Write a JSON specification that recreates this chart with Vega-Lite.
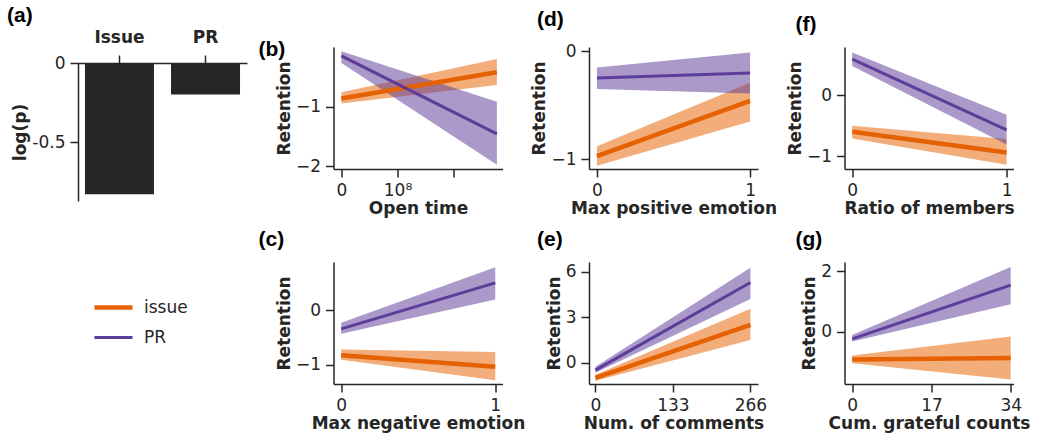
{
  "$schema": "https://vega.github.io/schema/vega-lite/v6.json",
  "padding": {"left": 7, "top": 5, "right": 5, "bottom": 5},
  "autosize": {"type": "pad"},
  "config": {
    "view": {"stroke": null},
    "font": "DejaVu Sans",
    "axis": {"domainColor": "#262626", "tickColor": "#262626", "labelColor": "#262626", "titleColor": "#262626", "grid": false, "labelFont": "DejaVu Sans", "labelFontSize": 17, "titleFont": "DejaVu Sans", "titleFontSize": 17, "titleFontWeight": "bold", "tickSize": 8, "domainWidth": 1.5, "tickWidth": 1.5, "labelPadding": 5, "titlePadding": 2, "labelFlush": false, "labelOverlap": false},
    "title": {"font": "Liberation Sans", "fontSize": 21, "fontWeight": "bold", "anchor": "start", "frame": "group", "color": "#000000", "offset": 0},
    "legend": {"padding": 0, "symbolType": "stroke", "symbolSize": 1444, "labelFont": "DejaVu Sans", "labelFontSize": 17, "labelColor": "#262626", "labelOffset": 9, "rowPadding": 0}
  },
  "datasets": {
    "logp": [
      {"type": "Issue", "logp": -0.83},
      {"type": "PR", "logp": -0.2}
    ],
    "reg": [
      {"panel": "b", "group": "issue", "x": 0, "y": -0.864, "lo": -0.95, "hi": -0.76},
      {"panel": "b", "group": "issue", "x": 277000000, "y": -0.424, "lo": -0.64, "hi": -0.2},
      {"panel": "b", "group": "PR", "x": 0, "y": -0.15, "lo": -0.27, "hi": -0.07},
      {"panel": "b", "group": "PR", "x": 277000000, "y": -1.46, "lo": -1.98, "hi": -0.92},
      {"panel": "d", "group": "issue", "x": 0, "y": -0.97, "lo": -1.06, "hi": -0.88},
      {"panel": "d", "group": "issue", "x": 1, "y": -0.46, "lo": -0.65, "hi": -0.29},
      {"panel": "d", "group": "PR", "x": 0, "y": -0.247, "lo": -0.35, "hi": -0.15},
      {"panel": "d", "group": "PR", "x": 1, "y": -0.2, "lo": -0.39, "hi": -0.01},
      {"panel": "f", "group": "issue", "x": 0, "y": -0.6, "lo": -0.71, "hi": -0.5},
      {"panel": "f", "group": "issue", "x": 1, "y": -0.94, "lo": -1.14, "hi": -0.72},
      {"panel": "f", "group": "PR", "x": 0, "y": 0.59, "lo": 0.48, "hi": 0.7},
      {"panel": "f", "group": "PR", "x": 1, "y": -0.57, "lo": -0.81, "hi": -0.32},
      {"panel": "c", "group": "issue", "x": 0, "y": -0.83, "lo": -0.91, "hi": -0.72},
      {"panel": "c", "group": "issue", "x": 1, "y": -1.04, "lo": -1.29, "hi": -0.77},
      {"panel": "c", "group": "PR", "x": 0, "y": -0.34, "lo": -0.43, "hi": -0.23},
      {"panel": "c", "group": "PR", "x": 1, "y": 0.51, "lo": 0.2, "hi": 0.8},
      {"panel": "e", "group": "issue", "x": 0, "y": -0.98, "lo": -1.17, "hi": -0.78},
      {"panel": "e", "group": "issue", "x": 266, "y": 2.5, "lo": 1.5, "hi": 3.56},
      {"panel": "e", "group": "PR", "x": 0, "y": -0.48, "lo": -0.65, "hi": -0.26},
      {"panel": "e", "group": "PR", "x": 266, "y": 5.28, "lo": 4.2, "hi": 6.26},
      {"panel": "g", "group": "issue", "x": 0, "y": -0.93, "lo": -1.05, "hi": -0.79},
      {"panel": "g", "group": "issue", "x": 34, "y": -0.88, "lo": -1.59, "hi": -0.16},
      {"panel": "g", "group": "PR", "x": 0, "y": -0.24, "lo": -0.33, "hi": -0.11},
      {"panel": "g", "group": "PR", "x": 34, "y": 1.54, "lo": 0.91, "hi": 2.14}
    ]
  },
  "columns": 4,
  "bounds": "flush",
  "align": "each",
  "spacing": {"row": 61, "column": 86.5},
  "concat": [
    {
      "width": 169, "height": 154,
      "title": {"text": "(a)", "dx": -71, "dy": 2},
      "data": {"name": "logp"},
      "mark": {"type": "bar", "color": "#262626"},
      "encoding": {
        "x": {"field": "type", "type": "nominal", "sort": null, "scale": {"paddingInner": 0.198, "paddingOuter": 0.081}, "axis": {"orient": "top", "title": null, "labelAngle": 0, "labelFontWeight": "bold", "labelFontSize": 17, "labelPadding": 9, "offset": -16}},
        "y": {"field": "logp", "type": "quantitative", "scale": {"domain": [-0.873, 0], "range": [154, 16], "nice": false, "zero": false}, "axis": {"values": [0, -0.5], "title": "log(p)", "labelExpr": "replace(format(datum.value, '~g'), '−', '-')"}}
      }
    },
    {
      "width": 169, "height": 122,
      "title": {"text": "(b)", "dx": -75, "dy": 17},
      "data": {"name": "reg"},
      "transform": [{"filter": "datum.panel == 'b'"}],
      "encoding": {"x": {"field": "x", "type": "quantitative", "scale": {"domain": [-14000000, 287000000], "nice": false, "zero": false}, "axis": {"title": "Open time", "values": [0, 100000000, 200000000], "labelExpr": "datum.value == 0 ? '0' : (datum.value == 100000000 ? '10⁸' : '')"}}},
      "layer": [
        {"mark": {"type": "area", "opacity": 0.52}, "encoding": {"y": {"field": "lo", "type": "quantitative", "stack": null, "scale": {"domain": [-2.05, 0], "nice": false, "zero": false}, "axis": {"title": "Retention", "values": [-2, -1], "format": "d"}}, "y2": {"field": "hi"}, "fill": {"field": "group", "type": "nominal", "scale": {"domain": ["PR", "issue"], "range": ["#5e3c99", "#e66101"]}, "legend": null}}},
        {"mark": {"type": "line"}, "encoding": {"y": {"field": "y", "type": "quantitative", "title": "Retention"}, "stroke": {"field": "group", "type": "nominal", "scale": {"domain": ["issue", "PR"], "range": ["#e66101", "#5e3c99"]}, "legend": {"orient": "none", "legendX": 14, "legendY": 239, "title": null}}, "strokeWidth": {"field": "group", "type": "nominal", "scale": {"domain": ["issue", "PR"], "range": [4.5, 3]}, "legend": {"orient": "none", "legendX": 14, "legendY": 239, "title": null}}}}
      ]
    },
    {
      "width": 169, "height": 122,
      "title": {"text": "(d)", "dx": -52, "dy": -8},
      "data": {"name": "reg"},
      "transform": [{"filter": "datum.panel == 'd'"}],
      "encoding": {"x": {"field": "x", "type": "quantitative", "scale": {"domain": [-0.052, 1.052], "nice": false, "zero": false}, "axis": {"title": "Max positive emotion", "values": [0, 0.5, 1], "format": "d", "labelExpr": "datum.value == 0.5 ? '' : datum.label"}}},
      "layer": [
        {"mark": {"type": "area", "opacity": 0.52}, "encoding": {"y": {"field": "lo", "type": "quantitative", "stack": null, "scale": {"domain": [-1.09, 0.04], "nice": false, "zero": false}, "axis": {"title": "Retention", "values": [-1, 0], "format": "d"}}, "y2": {"field": "hi"}, "fill": {"field": "group", "type": "nominal", "scale": {"domain": ["PR", "issue"], "range": ["#5e3c99", "#e66101"]}, "legend": null}}},
        {"mark": {"type": "line"}, "encoding": {"y": {"field": "y", "type": "quantitative", "title": "Retention"}, "stroke": {"field": "group", "type": "nominal", "scale": {"domain": ["issue", "PR"], "range": ["#e66101", "#5e3c99"]}, "legend": {"orient": "none", "legendX": 14, "legendY": 239, "title": null}}, "strokeWidth": {"field": "group", "type": "nominal", "scale": {"domain": ["issue", "PR"], "range": [4.5, 3]}, "legend": {"orient": "none", "legendX": 14, "legendY": 239, "title": null}}}}
      ]
    },
    {
      "width": 169, "height": 122,
      "title": {"text": "(f)", "dx": -49, "dy": -8},
      "data": {"name": "reg"},
      "transform": [{"filter": "datum.panel == 'f'"}],
      "encoding": {"x": {"field": "x", "type": "quantitative", "scale": {"domain": [-0.05, 1.045], "nice": false, "zero": false}, "axis": {"title": "Ratio of members", "values": [0, 0.5, 1], "format": "d", "labelExpr": "datum.value == 0.5 ? '' : datum.label"}}},
      "layer": [
        {"mark": {"type": "area", "opacity": 0.52}, "encoding": {"y": {"field": "lo", "type": "quantitative", "stack": null, "scale": {"domain": [-1.21, 0.79], "nice": false, "zero": false}, "axis": {"title": "Retention", "values": [-1, 0], "format": "d"}}, "y2": {"field": "hi"}, "fill": {"field": "group", "type": "nominal", "scale": {"domain": ["PR", "issue"], "range": ["#5e3c99", "#e66101"]}, "legend": null}}},
        {"mark": {"type": "line"}, "encoding": {"y": {"field": "y", "type": "quantitative", "title": "Retention"}, "stroke": {"field": "group", "type": "nominal", "scale": {"domain": ["issue", "PR"], "range": ["#e66101", "#5e3c99"]}, "legend": {"orient": "none", "legendX": 14, "legendY": 239, "title": null}}, "strokeWidth": {"field": "group", "type": "nominal", "scale": {"domain": ["issue", "PR"], "range": [4.5, 3]}, "legend": {"orient": "none", "legendX": 14, "legendY": 239, "title": null}}}}
      ]
    },
    {
      "width": 169, "height": 122,
      "data": {"values": []},
      "mark": {"type": "line"},
      "encoding": {"stroke": {"field": "group", "type": "nominal", "scale": {"domain": ["issue", "PR"], "range": ["#e66101", "#5e3c99"]}, "legend": {"orient": "none", "legendX": 14, "legendY": 239, "title": null}}, "strokeWidth": {"field": "group", "type": "nominal", "scale": {"domain": ["issue", "PR"], "range": [4.5, 3]}, "legend": {"orient": "none", "legendX": 14, "legendY": 239, "title": null}}}
    },
    {
      "width": 169, "height": 122,
      "title": {"text": "(c)", "dx": -75, "dy": -8},
      "data": {"name": "reg"},
      "transform": [{"filter": "datum.panel == 'c'"}],
      "encoding": {"x": {"field": "x", "type": "quantitative", "scale": {"domain": [-0.05, 1.047], "nice": false, "zero": false}, "axis": {"title": "Max negative emotion", "values": [0, 0.5, 1], "format": "d", "labelExpr": "datum.value == 0.5 ? '' : datum.label"}}},
      "layer": [
        {"mark": {"type": "area", "opacity": 0.52}, "encoding": {"y": {"field": "lo", "type": "quantitative", "stack": null, "scale": {"domain": [-1.36, 0.895], "nice": false, "zero": false}, "axis": {"title": "Retention", "values": [-1, 0], "format": "d"}}, "y2": {"field": "hi"}, "fill": {"field": "group", "type": "nominal", "scale": {"domain": ["PR", "issue"], "range": ["#5e3c99", "#e66101"]}, "legend": null}}},
        {"mark": {"type": "line"}, "encoding": {"y": {"field": "y", "type": "quantitative", "title": "Retention"}, "stroke": {"field": "group", "type": "nominal", "scale": {"domain": ["issue", "PR"], "range": ["#e66101", "#5e3c99"]}, "legend": {"orient": "none", "legendX": 14, "legendY": 239, "title": null}}, "strokeWidth": {"field": "group", "type": "nominal", "scale": {"domain": ["issue", "PR"], "range": [4.5, 3]}, "legend": {"orient": "none", "legendX": 14, "legendY": 239, "title": null}}}}
      ]
    },
    {
      "width": 169, "height": 122,
      "title": {"text": "(e)", "dx": -52, "dy": -8},
      "data": {"name": "reg"},
      "transform": [{"filter": "datum.panel == 'e'"}],
      "encoding": {"x": {"field": "x", "type": "quantitative", "scale": {"domain": [-11, 279], "nice": false, "zero": false}, "axis": {"title": "Num. of comments", "values": [0, 133, 266], "format": "d"}}},
      "layer": [
        {"mark": {"type": "area", "opacity": 0.52}, "encoding": {"y": {"field": "lo", "type": "quantitative", "stack": null, "scale": {"domain": [-1.39, 6.63], "nice": false, "zero": false}, "axis": {"title": "Retention", "values": [0, 3, 6], "format": "d"}}, "y2": {"field": "hi"}, "fill": {"field": "group", "type": "nominal", "scale": {"domain": ["PR", "issue"], "range": ["#5e3c99", "#e66101"]}, "legend": null}}},
        {"mark": {"type": "line"}, "encoding": {"y": {"field": "y", "type": "quantitative", "title": "Retention"}, "stroke": {"field": "group", "type": "nominal", "scale": {"domain": ["issue", "PR"], "range": ["#e66101", "#5e3c99"]}, "legend": {"orient": "none", "legendX": 14, "legendY": 239, "title": null}}, "strokeWidth": {"field": "group", "type": "nominal", "scale": {"domain": ["issue", "PR"], "range": [4.5, 3]}, "legend": {"orient": "none", "legendX": 14, "legendY": 239, "title": null}}}}
      ]
    },
    {
      "width": 169, "height": 122,
      "title": {"text": "(g)", "dx": -49, "dy": -8},
      "data": {"name": "reg"},
      "transform": [{"filter": "datum.panel == 'g'"}],
      "encoding": {"x": {"field": "x", "type": "quantitative", "scale": {"domain": [-1.65, 34.6], "nice": false, "zero": false}, "axis": {"title": "Cum. grateful counts", "values": [0, 17, 34], "format": "d"}}},
      "layer": [
        {"mark": {"type": "area", "opacity": 0.52}, "encoding": {"y": {"field": "lo", "type": "quantitative", "stack": null, "scale": {"domain": [-1.74, 2.31], "nice": false, "zero": false}, "axis": {"title": "Retention", "values": [0, 2], "format": "d"}}, "y2": {"field": "hi"}, "fill": {"field": "group", "type": "nominal", "scale": {"domain": ["PR", "issue"], "range": ["#5e3c99", "#e66101"]}, "legend": null}}},
        {"mark": {"type": "line"}, "encoding": {"y": {"field": "y", "type": "quantitative", "title": "Retention"}, "stroke": {"field": "group", "type": "nominal", "scale": {"domain": ["issue", "PR"], "range": ["#e66101", "#5e3c99"]}, "legend": {"orient": "none", "legendX": 14, "legendY": 239, "title": null}}, "strokeWidth": {"field": "group", "type": "nominal", "scale": {"domain": ["issue", "PR"], "range": [4.5, 3]}, "legend": {"orient": "none", "legendX": 14, "legendY": 239, "title": null}}}}
      ]
    }
  ]
}
